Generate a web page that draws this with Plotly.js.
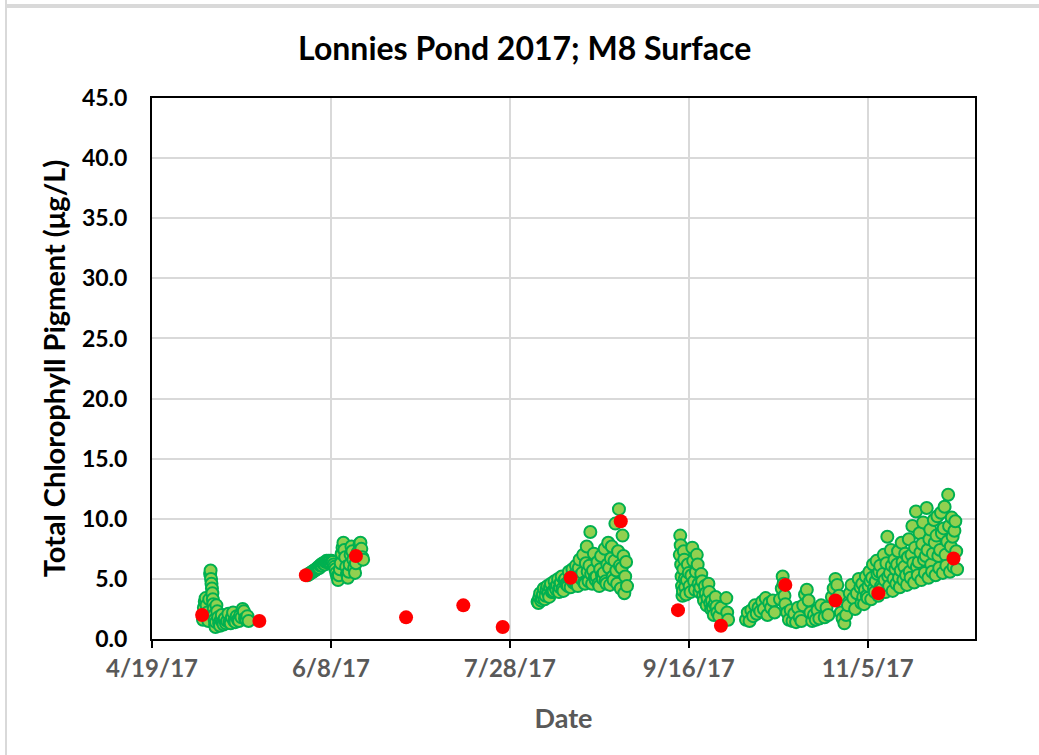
<!DOCTYPE html>
<html>
<head>
<meta charset="utf-8">
<script src="https://cdn.plot.ly/plotly-3.0.1.min.js"></script>
<style>
  html, body { margin: 0; padding: 0; background: #ffffff; }
  #wrap { position: relative; width: 1039px; height: 755px; overflow: hidden; }
  #chart { position: absolute; left: 0; top: 0; width: 1039px; height: 755px; }
  #bl { position: absolute; left: 5px; top: 0; width: 2px; height: 755px; background: #d9d9d9; }
  #bt { position: absolute; left: 7px; top: 4px; width: 1032px; height: 4px; background: #d9d9d9; }
</style>
</head>
<body>
<div id="wrap">
  <div id="chart"></div>
  <div id="bl"></div>
  <div id="bt"></div>
</div>
<script>
// ---- Tick labels ----
const xTickVals = ['2017-04-19', '2017-06-08', '2017-07-28', '2017-09-16', '2017-11-05'];
const xTickText = ['4/19/17', '6/8/17', '7/28/17', '9/16/17', '11/5/17'];

// ---- Lab (discrete) samples: red markers ----
const labDates = ['2017-05-03', '2017-05-19', '2017-06-01', '2017-06-15', '2017-06-29', '2017-07-15',
  '2017-07-26', '2017-08-14', '2017-08-28', '2017-09-13', '2017-09-25', '2017-10-13', '2017-10-27',
  '2017-11-08', '2017-11-29'];
const labValues = [2.0, 1.5, 5.3, 6.9, 1.8, 2.8, 1.0, 5.1, 9.8, 2.4, 1.1, 4.5, 3.2, 3.8, 6.7];

// ---- Sensor deployments: green markers ----
const mayDates = ['2017-05-03 06:00','2017-05-03 12:00','2017-05-03 18:00','2017-05-04 00:00','2017-05-04 06:00',
  '2017-05-04 12:00','2017-05-04 18:00','2017-05-05 00:00','2017-05-05 06:00','2017-05-05 09:00','2017-05-05 12:00',
  '2017-05-05 15:00','2017-05-05 18:00','2017-05-05 21:00','2017-05-06 00:00','2017-05-06 03:00','2017-05-06 06:00',
  '2017-05-06 09:00','2017-05-06 12:00','2017-05-06 15:00','2017-05-06 18:00','2017-05-06 21:00','2017-05-07 00:00',
  '2017-05-07 06:00','2017-05-07 12:00','2017-05-07 18:00','2017-05-08 00:00','2017-05-08 06:00','2017-05-08 12:00',
  '2017-05-08 18:00','2017-05-09 00:00','2017-05-09 08:00','2017-05-09 16:00','2017-05-10 00:00','2017-05-10 08:00',
  '2017-05-10 16:00','2017-05-11 00:00','2017-05-11 08:00','2017-05-11 16:00','2017-05-12 00:00','2017-05-12 08:00',
  '2017-05-12 16:00','2017-05-13 00:00','2017-05-13 08:00','2017-05-13 16:00','2017-05-14 00:00','2017-05-14 08:00',
  '2017-05-14 16:00','2017-05-15 00:00','2017-05-15 08:00','2017-05-15 16:00','2017-05-16 00:00'];
const mayValues = [1.6,2.6,3.1,3.4,2.8,2.2,1.5,3.3,5.4,5.7,5.0,4.6,4.2,3.8,3.3,2.9,2.5,2.0,1.6,1.2,1.0,1.4,2.8,
  2.3,1.8,1.3,1.1,1.6,2.0,1.4,1.2,1.7,1.3,1.5,2.1,1.4,1.3,1.8,2.2,1.5,1.4,1.9,1.6,1.5,2.0,1.8,2.5,2.3,1.7,1.6,1.9,1.5];

const junDates = ['2017-06-01 12:00','2017-06-01 18:00','2017-06-02 00:00','2017-06-02 06:00','2017-06-02 12:00',
  '2017-06-02 18:00','2017-06-03 00:00','2017-06-03 06:00','2017-06-03 12:00','2017-06-03 18:00','2017-06-04 00:00',
  '2017-06-04 06:00','2017-06-04 12:00','2017-06-04 18:00','2017-06-05 00:00','2017-06-05 06:00','2017-06-05 12:00',
  '2017-06-05 18:00','2017-06-06 00:00','2017-06-06 06:00','2017-06-06 12:00','2017-06-06 18:00','2017-06-07 00:00',
  '2017-06-07 06:00','2017-06-07 12:00','2017-06-07 18:00','2017-06-08 00:00','2017-06-08 06:00','2017-06-08 12:00',
  '2017-06-08 18:00','2017-06-09 00:00','2017-06-09 06:00','2017-06-09 12:00','2017-06-09 18:00','2017-06-10 00:00',
  '2017-06-10 06:00','2017-06-10 12:00','2017-06-10 18:00','2017-06-11 00:00','2017-06-11 06:00','2017-06-11 12:00',
  '2017-06-11 18:00','2017-06-12 00:00','2017-06-12 06:00','2017-06-12 12:00','2017-06-12 18:00','2017-06-13 00:00',
  '2017-06-13 06:00','2017-06-13 12:00','2017-06-13 18:00','2017-06-14 00:00','2017-06-14 06:00','2017-06-14 12:00',
  '2017-06-14 18:00','2017-06-15 00:00','2017-06-15 12:00','2017-06-16 00:00','2017-06-16 06:00','2017-06-16 12:00',
  '2017-06-16 18:00','2017-06-17 00:00'];
const junValues = [5.3,5.4,5.4,5.5,5.5,5.6,5.6,5.7,5.7,5.8,5.8,5.9,6.0,5.9,6.1,6.2,6.1,6.3,6.3,6.2,6.4,6.5,6.4,6.5,
  6.4,6.5,6.3,6.5,6.4,6.2,6.0,5.8,5.5,5.2,4.9,5.3,5.8,6.3,7.1,7.6,8.0,7.4,6.8,6.0,5.4,5.1,5.6,6.2,7.0,7.7,7.3,6.6,
  5.9,5.5,6.3,7.2,7.9,8.0,7.5,6.8,6.6];

const augDates = ['2017-08-04 18:00',
  '2017-08-05 00:00','2017-08-05 06:00','2017-08-05 12:00','2017-08-05 18:00',
  '2017-08-06 00:00','2017-08-06 06:00','2017-08-06 12:00','2017-08-06 18:00',
  '2017-08-07 00:00','2017-08-07 06:00','2017-08-07 12:00','2017-08-07 18:00',
  '2017-08-08 00:00','2017-08-08 06:00','2017-08-08 12:00','2017-08-08 18:00',
  '2017-08-09 00:00','2017-08-09 06:00','2017-08-09 12:00','2017-08-09 18:00',
  '2017-08-10 00:00','2017-08-10 06:00','2017-08-10 12:00','2017-08-10 18:00',
  '2017-08-11 00:00','2017-08-11 06:00','2017-08-11 12:00','2017-08-11 18:00',
  '2017-08-12 00:00','2017-08-12 06:00','2017-08-12 12:00','2017-08-12 18:00',
  '2017-08-13 00:00','2017-08-13 06:00','2017-08-13 12:00','2017-08-13 18:00',
  '2017-08-14 00:00','2017-08-14 06:00','2017-08-14 12:00','2017-08-14 18:00',
  '2017-08-15 00:00','2017-08-15 06:00','2017-08-15 12:00','2017-08-15 18:00',
  '2017-08-16 00:00','2017-08-16 06:00','2017-08-16 12:00','2017-08-16 18:00',
  '2017-08-17 00:00','2017-08-17 06:00','2017-08-17 12:00','2017-08-17 18:00',
  '2017-08-18 00:00','2017-08-18 06:00','2017-08-18 12:00','2017-08-18 18:00',
  '2017-08-19 00:00','2017-08-19 06:00','2017-08-19 12:00','2017-08-19 18:00',
  '2017-08-20 00:00','2017-08-20 06:00','2017-08-20 12:00','2017-08-20 18:00',
  '2017-08-21 00:00','2017-08-21 06:00','2017-08-21 12:00','2017-08-21 18:00',
  '2017-08-22 00:00','2017-08-22 06:00','2017-08-22 12:00','2017-08-22 18:00',
  '2017-08-23 00:00','2017-08-23 06:00','2017-08-23 12:00','2017-08-23 18:00',
  '2017-08-24 00:00','2017-08-24 06:00','2017-08-24 12:00','2017-08-24 18:00',
  '2017-08-25 00:00','2017-08-25 06:00','2017-08-25 12:00','2017-08-25 18:00',
  '2017-08-26 00:00','2017-08-26 06:00','2017-08-26 12:00','2017-08-26 18:00',
  '2017-08-27 00:00','2017-08-27 06:00','2017-08-27 12:00','2017-08-27 18:00',
  '2017-08-28 00:00','2017-08-28 06:00','2017-08-28 12:00','2017-08-28 18:00',
  '2017-08-29 00:00','2017-08-29 06:00','2017-08-29 12:00','2017-08-29 18:00'];
const augValues = [3.1,
  3.0,3.5,3.8,3.2, 3.4,3.7,4.2,3.3, 3.6,4.1,4.4,3.8, 3.5,4.3,4.6,3.9, 3.9,4.0,4.8,4.3,
  4.1,4.5,5.0,3.9, 4.3,4.7,5.2,4.2, 4.0,4.9,5.0,4.6, 4.5,4.4,5.6,5.0, 4.3,5.2,5.8,4.7,
  4.8,5.4,6.1,4.5, 4.4,5.9,6.6,5.3, 5.0,5.5,7.0,4.7, 4.6,6.3,7.7,5.6, 4.8,6.1,8.9,5.4,
  4.6,5.7,7.1,5.1, 4.9,5.2,6.4,4.6, 4.4,5.8,6.9,5.3, 5.0,5.5,7.5,4.8, 4.6,6.2,8.0,5.9,
  4.5,6.7,7.7,5.2, 4.9,6.5,9.6,5.7, 4.6,7.3,10.8,6.1, 4.2,5.9,8.6,6.9, 3.8,5.2,6.4,4.4];

const sepDates = ['2017-09-13 12:00','2017-09-13 15:00','2017-09-13 18:00','2017-09-13 21:00','2017-09-14 00:00',
  '2017-09-14 03:00','2017-09-14 06:00','2017-09-14 09:00','2017-09-14 12:00','2017-09-14 15:00','2017-09-14 18:00',
  '2017-09-14 21:00','2017-09-15 00:00','2017-09-15 06:00','2017-09-15 12:00','2017-09-15 18:00','2017-09-16 00:00',
  '2017-09-16 06:00','2017-09-16 12:00','2017-09-16 18:00','2017-09-17 00:00','2017-09-17 06:00','2017-09-17 12:00',
  '2017-09-17 18:00','2017-09-18 00:00','2017-09-18 06:00','2017-09-18 12:00','2017-09-18 18:00','2017-09-19 00:00',
  '2017-09-19 06:00','2017-09-19 12:00','2017-09-19 18:00','2017-09-20 00:00','2017-09-20 06:00','2017-09-20 12:00',
  '2017-09-20 18:00','2017-09-21 00:00','2017-09-21 06:00','2017-09-21 12:00','2017-09-21 18:00','2017-09-22 00:00',
  '2017-09-22 06:00','2017-09-22 12:00','2017-09-22 18:00','2017-09-23 00:00','2017-09-23 06:00','2017-09-23 12:00',
  '2017-09-23 18:00','2017-09-24 00:00','2017-09-24 12:00','2017-09-25 00:00','2017-09-26 12:00','2017-09-26 18:00',
  '2017-09-27 00:00'];
const sepValues = [7.0,8.6,7.8,6.2,5.2,4.4,3.6,4.0,5.8,7.3,6.6,5.0,4.3,3.7,4.9,6.2,5.5,4.4,3.9,5.3,7.6,6.5,4.8,4.1,
  5.6,7.0,6.2,4.6,3.9,4.3,5.4,4.8,3.6,3.2,4.4,3.8,2.8,3.4,4.6,3.9,3.0,2.5,3.2,2.6,2.0,2.9,3.5,2.7,2.2,1.9,2.6,3.4,
  2.2,1.6];

const octDates = ['2017-10-02 00:00','2017-10-02 12:00','2017-10-03 00:00','2017-10-03 12:00','2017-10-04 00:00',
  '2017-10-04 12:00','2017-10-05 00:00','2017-10-05 12:00','2017-10-06 00:00','2017-10-06 12:00','2017-10-07 00:00',
  '2017-10-07 12:00','2017-10-08 00:00','2017-10-08 12:00','2017-10-09 00:00','2017-10-09 12:00','2017-10-10 00:00',
  '2017-10-11 12:00','2017-10-12 00:00','2017-10-12 06:00','2017-10-12 12:00','2017-10-12 18:00','2017-10-13 00:00',
  '2017-10-13 12:00','2017-10-14 00:00','2017-10-14 12:00','2017-10-15 00:00','2017-10-15 12:00','2017-10-16 00:00',
  '2017-10-16 12:00','2017-10-17 00:00','2017-10-17 12:00','2017-10-18 00:00','2017-10-18 12:00','2017-10-19 00:00',
  '2017-10-19 12:00','2017-10-20 00:00','2017-10-20 12:00','2017-10-21 00:00','2017-10-21 12:00','2017-10-22 00:00',
  '2017-10-22 12:00','2017-10-23 00:00','2017-10-24 00:00','2017-10-24 12:00','2017-10-25 00:00','2017-10-26 00:00',
  '2017-10-26 12:00','2017-10-27 00:00','2017-10-27 12:00','2017-10-28 00:00','2017-10-28 12:00','2017-10-29 00:00',
  '2017-10-29 12:00','2017-10-30 00:00','2017-10-30 12:00','2017-10-31 00:00','2017-10-31 12:00','2017-11-01 00:00',
  '2017-11-01 12:00','2017-11-02 00:00','2017-11-02 12:00','2017-11-03 00:00'];
const octValues = [1.6,2.2,1.5,2.4,1.9,2.8,2.1,2.6,2.3,3.1,2.5,3.4,2.0,3.0,2.6,3.2,2.2,3.3,4.2,5.2,4.6,3.6,2.9,2.2,
  1.6,2.4,1.5,2.1,1.4,2.6,1.8,1.5,2.8,3.7,4.1,3.2,2.2,1.5,2.0,1.6,2.4,1.7,2.8,1.8,2.6,2.0,3.5,4.2,5.0,4.5,3.6,2.2,
  1.7,1.3,2.0,2.8,3.8,4.5,3.4,2.5,3.8,5.0,4.3];

const novDates = ['2017-11-03 06:00','2017-11-03 12:00','2017-11-03 18:00',
  '2017-11-04 00:00','2017-11-04 06:00','2017-11-04 12:00','2017-11-04 18:00',
  '2017-11-05 00:00','2017-11-05 06:00','2017-11-05 12:00','2017-11-05 18:00',
  '2017-11-06 00:00','2017-11-06 06:00','2017-11-06 12:00','2017-11-06 18:00',
  '2017-11-07 00:00','2017-11-07 06:00','2017-11-07 12:00','2017-11-07 18:00',
  '2017-11-08 00:00','2017-11-08 06:00','2017-11-08 12:00','2017-11-08 18:00',
  '2017-11-09 00:00','2017-11-09 06:00','2017-11-09 12:00','2017-11-09 18:00',
  '2017-11-10 00:00','2017-11-10 06:00','2017-11-10 12:00','2017-11-10 18:00',
  '2017-11-11 00:00','2017-11-11 06:00','2017-11-11 12:00','2017-11-11 18:00',
  '2017-11-12 00:00','2017-11-12 06:00','2017-11-12 12:00','2017-11-12 18:00',
  '2017-11-13 00:00','2017-11-13 06:00','2017-11-13 12:00','2017-11-13 18:00',
  '2017-11-14 00:00','2017-11-14 06:00','2017-11-14 12:00','2017-11-14 18:00',
  '2017-11-15 00:00','2017-11-15 06:00','2017-11-15 12:00','2017-11-15 18:00',
  '2017-11-16 00:00','2017-11-16 06:00','2017-11-16 12:00','2017-11-16 18:00',
  '2017-11-17 00:00','2017-11-17 06:00','2017-11-17 12:00','2017-11-17 18:00',
  '2017-11-18 00:00','2017-11-18 06:00','2017-11-18 12:00','2017-11-18 18:00',
  '2017-11-19 00:00','2017-11-19 06:00','2017-11-19 12:00','2017-11-19 18:00',
  '2017-11-20 00:00','2017-11-20 06:00','2017-11-20 12:00','2017-11-20 18:00',
  '2017-11-21 00:00','2017-11-21 06:00','2017-11-21 12:00','2017-11-21 18:00',
  '2017-11-22 00:00','2017-11-22 06:00','2017-11-22 12:00','2017-11-22 18:00',
  '2017-11-23 00:00','2017-11-23 06:00','2017-11-23 12:00','2017-11-23 18:00',
  '2017-11-24 00:00','2017-11-24 06:00','2017-11-24 12:00','2017-11-24 18:00',
  '2017-11-25 00:00','2017-11-25 06:00','2017-11-25 12:00','2017-11-25 18:00',
  '2017-11-26 00:00','2017-11-26 06:00','2017-11-26 12:00','2017-11-26 18:00',
  '2017-11-27 00:00','2017-11-27 06:00','2017-11-27 12:00','2017-11-27 18:00',
  '2017-11-28 00:00','2017-11-28 06:00','2017-11-28 12:00','2017-11-28 18:00',
  '2017-11-29 00:00','2017-11-29 06:00','2017-11-29 12:00','2017-11-29 18:00',
  '2017-11-30 00:00'];
const novValues = [3.0,4.6,3.5,
  2.9,4.1,5.2,3.6, 3.4,4.4,5.6,4.8, 3.3,5.1,6.2,4.2, 3.9,4.8,6.5,5.4, 3.6,5.6,6.1,4.4,
  4.2,5.4,7.0,4.9, 3.9,6.3,8.5,5.2, 4.4,5.5,7.4,6.1, 4.0,5.0,6.6,5.8, 4.6,6.2,7.3,5.1,
  4.3,5.7,8.0,6.4, 4.9,6.0,7.1,5.3, 4.5,6.8,8.3,5.6, 5.1,7.0,9.4,6.3, 4.7,7.6,10.6,6.0,
  5.3,6.4,8.8,7.2, 4.9,7.9,9.7,6.6, 5.5,6.9,10.9,7.4, 5.1,8.3,9.1,6.2, 5.6,7.1,9.9,8.0,
  5.3,8.6,10.2,6.9, 5.9,7.4,10.5,8.8, 5.5,9.2,11.0,7.0, 6.1,8.1,12.0,9.4, 5.6,7.7,10.1,8.5,
  6.0,9.0,9.8,7.3, 5.8];

const sensorDates = [].concat(mayDates, junDates, augDates, sepDates, octDates, novDates);
const sensorValues = [].concat(mayValues, junValues, augValues, sepValues, octValues, novValues);

const FONT = 'Lato, "Open Sans", sans-serif';

const traces = [
  {
    type: 'scatter', mode: 'markers', x: sensorDates, y: sensorValues, showlegend: false,
    marker: { size: 12, color: '#92D050', line: { color: '#00B050', width: 2 } },
    hoverinfo: 'x+y'
  },
  {
    type: 'scatter', mode: 'markers', x: labDates, y: labValues, showlegend: false,
    marker: { size: 14, color: '#FF0000', line: { color: '#FF0000', width: 0 } },
    hoverinfo: 'x+y'
  }
];

const layout = {
  width: 1039, height: 755,
  margin: { l: 152, r: 64, t: 98, b: 116 },
  paper_bgcolor: '#ffffff', plot_bgcolor: '#ffffff',
  font: { family: FONT, weight: 700, color: '#000000' },
  title: {
    text: 'Lonnies Pond 2017; M8 Surface',
    font: { family: FONT, size: 32, weight: 700, color: '#000000' },
    x: 0.505, xref: 'container', xanchor: 'center',
    y: 0.936, yref: 'container', yanchor: 'middle'
  },
  xaxis: {
    type: 'date',
    range: ['2017-04-19', '2017-12-05'],
    tickmode: 'array', tickvals: xTickVals, ticktext: xTickText,
    showgrid: true, gridcolor: '#d9d9d9', gridwidth: 2,
    zeroline: false,
    showline: true, linecolor: '#000000', linewidth: 2, mirror: true,
    ticks: 'outside', ticklen: 7, tickwidth: 2, tickcolor: '#000000',
    tickfont: { family: FONT, size: 24, weight: 700, color: '#595959' },
    title: { text: 'Date', font: { family: FONT, size: 27, weight: 700, color: '#595959' }, standoff: 28 },
    automargin: false
  },
  yaxis: {
    range: [0, 45], tickmode: 'linear', tick0: 0, dtick: 5, tickformat: '.1f',
    showgrid: true, gridcolor: '#d9d9d9', gridwidth: 2,
    zeroline: false,
    showline: true, linecolor: '#000000', linewidth: 2, mirror: true,
    ticks: 'outside', ticklen: 18, tickcolor: 'rgba(0,0,0,0)',
    tickfont: { family: FONT, size: 23, weight: 700, color: '#000000' },
    title: { text: 'Total Chlorophyll Pigment (μg/L)', font: { family: FONT, size: 29, weight: 700, color: '#000000' }, standoff: 8 },
    automargin: false
  }
};

Plotly.newPlot('chart', traces, layout, { staticPlot: true, displayModeBar: false });
</script>
</body>
</html>
